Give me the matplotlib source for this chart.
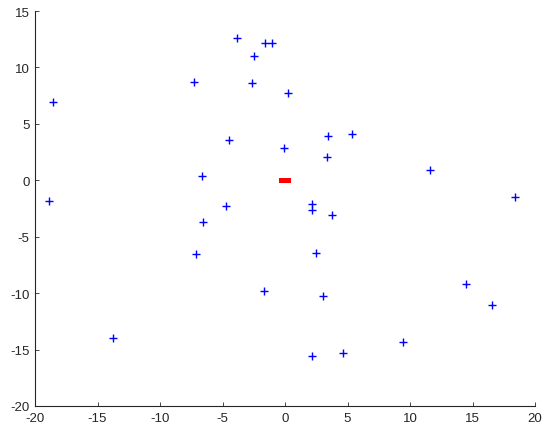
import matplotlib
matplotlib.use('Agg')
import matplotlib.pyplot as plt
from matplotlib.patches import Rectangle

# point positions
xs = [-18.54, -18.85, -7.28, -3.87, -1.60, -1.07, -2.48, -2.67, -4.45, -6.64, -4.69,
      0.27, -0.08, 3.41, 5.36, 3.33, 11.6, 18.4, 2.13, 2.13, 3.73,
      -6.56, -7.09, -1.65, -13.73,
      2.48, 3.07, 14.45, 16.59, 9.44, 2.13, 4.64]
ys = [6.91, -1.81, 8.68, 12.60, 12.16, 12.16, 11.04, 8.62, 3.57, 0.41, -2.25,
      7.73, 2.86, 3.95, 4.10, 2.04, 0.91, -1.48, -2.10, -2.60, -3.07,
      -3.72, -6.53, -9.83, -14.0,
      -6.44, -10.25, -9.16, -11.02, -14.32, -15.53, -15.32]

# red block at the origin
centre = (0.0, 0.0)
block_w, block_h = 0.9, 0.44

xticks = [-20, -15, -10, -5, 0, 5, 10, 15, 20]
yticks = [-20, -15, -10, -5, 0, 5, 10, 15]

plt.rcParams['font.family'] = ['Liberation Sans', 'DejaVu Sans']
plt.rcParams['axes.unicode_minus'] = False

fig = plt.figure(figsize=(5.5, 4.39), dpi=100)
ax = fig.add_axes([35/550, 1-407/439, 500/550, 395/439])

ax.plot(xs, ys, linestyle='none', marker='+', color='blue', markersize=6, markeredgewidth=1.0)
ax.add_patch(Rectangle((centre[0]-block_w/2, centre[1]-block_h/2), block_w, block_h,
                       facecolor='red', edgecolor='none'))

ax.set_xlim(-20, 20)
ax.set_ylim(-20, 15)
ax.set_xticks(xticks)
ax.set_yticks(yticks)
ax.spines['top'].set_visible(False)
ax.spines['right'].set_visible(False)
for s in ['left', 'bottom']:
    ax.spines[s].set_color('#262626')
    ax.spines[s].set_linewidth(0.8)
ax.tick_params(direction='in', length=3, width=0.6, colors='#262626', labelsize=9.5, pad=4)

fig.savefig('out.png', dpi=100)
